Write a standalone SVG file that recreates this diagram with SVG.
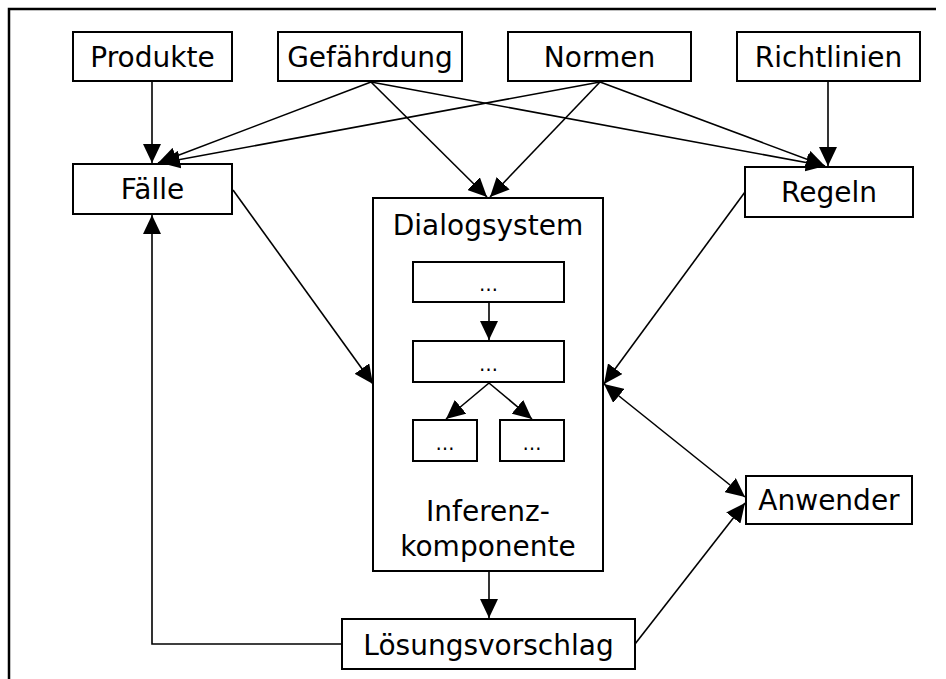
<svg xmlns="http://www.w3.org/2000/svg" width="946" height="679" viewBox="0 0 946 679">
  <style>
    .box { fill: #fff; stroke: #000; stroke-width: 2; }
    .lbl { font-family: "DejaVu Sans", "Liberation Sans", sans-serif; font-size: 28px; fill: #000; text-anchor: middle; }
    .dots { font-family: "DejaVu Sans", "Liberation Sans", sans-serif; font-size: 19px; fill: #000; text-anchor: middle; }
    .con { fill: none; stroke: #000; stroke-width: 1.6; }
  </style>
  <defs>
    <marker id="arrow" viewBox="0 0 19 18" refX="19" refY="9" markerWidth="19" markerHeight="18" markerUnits="userSpaceOnUse" orient="auto-start-reverse">
      <path d="M0,0 L19,9 L0,18 z" fill="#000"/>
    </marker>
  </defs>

  <rect width="946" height="679" fill="#fff"/>

  <!-- frame -->
  <path d="M9,679 L9,9 L936,9" fill="none" stroke="#000" stroke-width="2.5"/>

  <g id="produkte">
    <rect class="box" x="73" y="32" width="159" height="49"/>
    <text class="lbl" x="152.5" y="67">Produkte</text>
  </g>
  <g id="gefaehrdung">
    <rect class="box" x="278" y="32" width="184" height="49"/>
    <text class="lbl" x="370" y="67">Gefährdung</text>
  </g>
  <g id="normen">
    <rect class="box" x="508" y="32" width="183" height="49"/>
    <text class="lbl" x="599.5" y="67">Normen</text>
  </g>
  <g id="richtlinien">
    <rect class="box" x="737" y="32" width="183" height="49"/>
    <text class="lbl" x="828.5" y="67">Richtlinien</text>
  </g>
  <g id="faelle">
    <rect class="box" x="73" y="164" width="159" height="50"/>
    <text class="lbl" x="152.5" y="199">Fälle</text>
  </g>
  <g id="regeln">
    <rect class="box" x="745" y="167" width="168" height="50"/>
    <text class="lbl" x="829" y="202">Regeln</text>
  </g>
  <g id="dialogsystem">
    <rect class="box" x="373" y="198" width="230" height="373"/>
    <text class="lbl" x="488" y="235">Dialogsystem</text>
    <text class="lbl" x="488" y="521">Inferenz-</text>
    <text class="lbl" x="488" y="556">komponente</text>
  </g>
  <g id="schritt1">
    <rect class="box" x="413" y="262" width="151" height="40"/>
    <text class="dots" x="488.5" y="291">…</text>
  </g>
  <g id="schritt2">
    <rect class="box" x="413" y="341" width="151" height="41"/>
    <text class="dots" x="488.5" y="371">…</text>
  </g>
  <g id="schritt3a">
    <rect class="box" x="413" y="420" width="64" height="41"/>
    <text class="dots" x="445" y="450">…</text>
  </g>
  <g id="schritt3b">
    <rect class="box" x="500" y="420" width="64" height="41"/>
    <text class="dots" x="532" y="450">…</text>
  </g>
  <g id="anwender">
    <rect class="box" x="746" y="476" width="166" height="48"/>
    <text class="lbl" x="829" y="510">Anwender</text>
  </g>
  <g id="loesungsvorschlag">
    <rect class="box" x="342" y="619" width="293" height="50"/>
    <text class="lbl" x="488.5" y="655">Lösungsvorschlag</text>
  </g>

  <!-- connectors, drawn last so they stay on top of the box fills -->
  <g id="connectors">
    <path class="con" d="M152,82 L152,163" marker-end="url(#arrow)"/>
    <path class="con" d="M371,82 L158,163" marker-end="url(#arrow)"/>
    <path class="con" d="M600,82 L161,163" marker-end="url(#arrow)"/>
    <path class="con" d="M371,82 L487,197" marker-end="url(#arrow)"/>
    <path class="con" d="M600,82 L490,197" marker-end="url(#arrow)"/>
    <path class="con" d="M371,82 L825,166" marker-end="url(#arrow)"/>
    <path class="con" d="M600,82 L825,166" marker-end="url(#arrow)"/>
    <path class="con" d="M828,82 L828,166" stroke-width="3" marker-end="url(#arrow)"/>
    <path class="con" d="M233,190 L373,384" marker-end="url(#arrow)"/>
    <path class="con" d="M745,192 L604,384" marker-end="url(#arrow)"/>
    <path class="con" d="M604,384 L745,497" marker-start="url(#arrow)" marker-end="url(#arrow)"/>
    <path class="con" d="M489,572 L489,618" marker-end="url(#arrow)"/>
    <path class="con" d="M635,644 L745,503" marker-end="url(#arrow)"/>
    <path class="con" d="M342,644 L152,644 L152,215" marker-end="url(#arrow)"/>
    <path class="con" d="M489,303 L489,340" marker-end="url(#arrow)"/>
    <path class="con" d="M489,383 L446,419" marker-end="url(#arrow)"/>
    <path class="con" d="M489,383 L532,419" marker-end="url(#arrow)"/>
  </g>
</svg>
